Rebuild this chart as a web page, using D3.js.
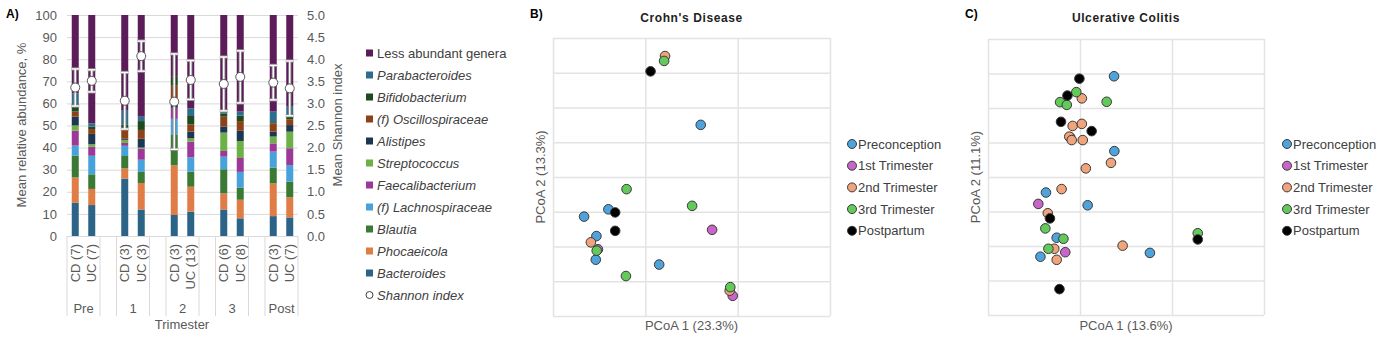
<!DOCTYPE html>
<html><head><meta charset="utf-8">
<script src="https://cdn.jsdelivr.net/npm/d3@7"></script>
<style>body{margin:0;background:#fff}svg{display:block;font-family:"Liberation Sans",Arial,sans-serif}</style>
</head><body><svg id="c" width="1390" height="358"></svg>
<script>
// ---------- Panel A data ----------
const groups = ["Pre", "1", "2", "3", "Post"];
const cdN = [7, 3, 3, 6, 3];
const ucN = [7, 3, 13, 8, 7];
// order of bars: PreCD, PreUC, 1CD, 1UC, 2CD, 2UC, 3CD, 3UC, PostCD, PostUC
const bacteroides     = [15, 14, 26, 12, 9.5, 11, 12, 8, 9, 8.4];
const phocaeicola     = [11.5, 7.3, 4.6, 12, 22.5, 11.3, 7.3, 8.4, 14.8, 9.1];
const blautia         = [9.8, 6.6, 5.6, 5, 14, 6.8, 10.9, 5.4, 7.1, 7.1];
const lachnospiraceae = [4.6, 8.4, 4.6, 5.5, 7, 6.5, 5.7, 7.2, 7.3, 7.5];
const faecalibacterium= [6.8, 4.1, 1.3, 5, 5, 7.1, 2.6, 6.3, 3.7, 7.6];
const streptococcus   = [2.3, 1.2, 1.4, 0.5, 0, 1.5, 8.3, 7.7, 3.1, 7.5];
const alistipes       = [4, 4.6, 0.5, 4, 3, 3, 2.7, 4.6, 2.2, 3];
const oscillospiraceae= [2.3, 2.2, 4, 4, 7, 3.3, 4.5, 4.4, 3.8, 2.6];
const bifidobacterium = [2.2, 1.1, 2.5, 4, 4, 3.8, 1.5, 2.5, 0.5, 1.2];
const parabacteroides = [6, 1.5, 6.5, 2, 0, 3.5, 0.8, 1.8, 4.8, 4.5];
const lessAbundant    = [35.5, 49, 43, 46, 28, 42.2, 43.7, 43.7, 43.7, 41.5];
const shannonMean = [3.36, 3.51, 3.06, 4.07, 3.04, 3.53, 3.44, 3.60, 3.47, 3.34];
const shannonSD   = [0.42, 0.25, 0.64, 0.34, 1.08, 0.44, 0.61, 0.59, 0.39, 0.62];
const leftTicks = [0,10,20,30,40,50,60,70,80,90,100];
const rightTicks = [0,0.5,1,1.5,2,2.5,3,3.5,4,4.5,5];

// ---------- Panel B / C data (PCoA coordinates) ----------
const cdPre  = [[0.180,0.150],[-0.120,-0.093],[-0.199,-0.114],[-0.159,-0.170],[-0.161,-0.238],[0.045,-0.252]];
const cdT1   = [[0.217,-0.152],[-0.154,-0.208],[0.284,-0.342]];
const cdT2   = [[0.064,0.348],[-0.177,-0.188],[0.274,-0.327]];
const cdT3   = [[0.061,0.334],[-0.061,-0.035],[0.152,-0.083],[-0.158,-0.212],[-0.063,-0.285],[0.276,-0.317]];
const cdPost = [[0.017,0.304],[-0.098,-0.102],[-0.098,-0.155]];
const ucPre  = [[0.111,0.292],[0.112,0.075],[-0.111,-0.045],[0.025,-0.082],[-0.076,-0.176],[-0.129,-0.231],[0.228,-0.220]];
const ucT1   = [[-0.032,0.115],[-0.136,-0.078],[-0.048,-0.218]];
const ucT2   = [[0.006,0.228],[-0.024,0.148],[0.006,0.154],[-0.035,0.117],[-0.027,0.107],[0.009,0.107],[0.101,0.041],[0.019,0.025],[-0.060,-0.035],[-0.105,-0.105],[0.139,-0.199],[-0.084,-0.208],[-0.076,-0.240]];
const ucT3   = [[-0.012,0.246],[-0.065,0.217],[-0.043,0.209],[0.087,0.218],[-0.113,-0.149],[0.384,-0.163],[-0.054,-0.179],[-0.103,-0.208]];
const ucPost = [[-0.002,0.285],[-0.041,0.236],[-0.062,0.160],[0.038,0.133],[-0.098,-0.120],[0.384,-0.181],[-0.067,-0.325]];
const timepoints = ["Preconception","1st Trimester","2nd Trimester","3rd Trimester","Postpartum"];
const pcoaXTicks = [-0.3, 0, 0.3, 0.6];
const pcoaYTicks = [-0.4,-0.3,-0.2,-0.1,0,0.1,0.2,0.3,0.4];

// ---------- styling ----------
const genera = [
  {name:"Bacteroides", vals:bacteroides, color:"#2c6488", it:true},
  {name:"Phocaeicola", vals:phocaeicola, color:"#e07d47", it:true},
  {name:"Blautia", vals:blautia, color:"#3b7a35", it:true},
  {name:"(f) Lachnospiraceae", vals:lachnospiraceae, color:"#47a1db", it:true},
  {name:"Faecalibacterium", vals:faecalibacterium, color:"#9c3898", it:true},
  {name:"Streptococcus", vals:streptococcus, color:"#6cb046", it:true},
  {name:"Alistipes", vals:alistipes, color:"#1c3754", it:true},
  {name:"(f) Oscillospiraceae", vals:oscillospiraceae, color:"#8d4119", it:true},
  {name:"Bifidobacterium", vals:bifidobacterium, color:"#1e4a1d", it:true},
  {name:"Parabacteroides", vals:parabacteroides, color:"#2f6d8e", it:true},
  {name:"Less abundant genera", vals:lessAbundant, color:"#5c1c59", it:false}
];
const tpColors = ["#4ea3dc","#c866c8","#efa47c","#63c95a","#000000"];
const gridC = "#d9d9d9", textC = "#595959";

const svg = d3.select("#c");
svg.append("rect").attr("width",1390).attr("height",358).attr("fill","#fff");

// ================= Panel A =================
const cats = [];
groups.forEach((g,i)=>{ cats.push(g+"|CD", g+"|UC"); if(i<groups.length-1) cats.push("gap"+i); });
const barKeys = [];
groups.forEach(g=>{ barKeys.push(g+"|CD", g+"|UC"); });
const x = d3.scaleBand(cats,[67,298]);
const yL = d3.scaleLinear([0,100],[236,15]);
const yR = d3.scaleLinear([0,5],[236,15]);
const A = svg.append("g");

const ga = A.append("g").attr("transform","translate(67,0)")
  .call(d3.axisLeft(yL).tickValues(leftTicks).tickSize(-231).tickPadding(10));
ga.select(".domain").remove();
ga.selectAll("line").attr("stroke",gridC);
ga.selectAll("text").attr("fill",textC).attr("font-size",13);
const gr = A.append("g").attr("transform","translate(298,0)")
  .call(d3.axisRight(yR).tickValues(rightTicks).tickFormat(d3.format(".1f")).tickSize(0).tickPadding(9));
gr.select(".domain").remove();
gr.selectAll("text").attr("fill",textC).attr("font-size",13);

// stacked bars
const table = barKeys.map((k,i)=>{ const o={key:k}; genera.forEach(g=>o[g.name]=g.vals[i]); return o; });
const series = d3.stack().keys(genera.map(g=>g.name))(table);
const bw = 7;
series.forEach((s,si)=>{
  A.append("g").selectAll("rect").data(s).join("rect")
    .attr("x",d=>x(d.data.key)+(x.bandwidth()-bw)/2)
    .attr("width",bw)
    .attr("y",d=>yL(d[1]))
    .attr("height",d=>Math.max(0,yL(d[0])-yL(d[1])))
    .attr("fill",genera[si].color);
});
// error bars + markers
const eb = A.append("g");
barKeys.forEach((k,i)=>{
  const cx = x(k)+x.bandwidth()/2;
  const lo = yR(shannonMean[i]-shannonSD[i]), hi = yR(shannonMean[i]+shannonSD[i]);
  [["#8c8c8c",3.2],["#ffffff",1.4]].forEach(([c,w])=>{
    eb.append("line").attr("x1",cx).attr("x2",cx).attr("y1",lo).attr("y2",hi).attr("stroke",c).attr("stroke-width",w);
    eb.append("line").attr("x1",cx-4).attr("x2",cx+4).attr("y1",lo).attr("y2",lo).attr("stroke",c).attr("stroke-width",w);
    eb.append("line").attr("x1",cx-4).attr("x2",cx+4).attr("y1",hi).attr("y2",hi).attr("stroke",c).attr("stroke-width",w);
  });
  eb.append("circle").attr("cx",cx).attr("cy",yR(shannonMean[i])).attr("r",4.5)
    .attr("fill","#fff").attr("stroke","#595959").attr("stroke-width",1);
});
// category axis
const ca = A.append("g");
groups.forEach((g,i)=>{
  const x0 = x(g+"|CD"), x1 = x(g+"|UC")+x.bandwidth();
  [x0,x1].forEach(xx=>ca.append("line").attr("x1",xx).attr("x2",xx).attr("y1",236).attr("y2",316).attr("stroke",gridC));
  [["CD",cdN[i],g+"|CD"],["UC",ucN[i],g+"|UC"]].forEach(([lab,n,k])=>{
    const cx = x(k)+x.bandwidth()/2;
    ca.append("text").attr("transform",`translate(${cx+4.5},244) rotate(-90)`)
      .attr("text-anchor","end").attr("font-size",13).attr("fill",textC).text(`${lab} (${n})`);
  });
  ca.append("text").attr("x",(x0+x1)/2).attr("y",313).attr("text-anchor","middle")
    .attr("font-size",13).attr("fill",textC).text(g);
});
A.append("text").attr("x",182).attr("y",329).attr("text-anchor","middle").attr("font-size",13).attr("fill",textC).text("Trimester");
A.append("text").attr("transform","translate(26,125) rotate(-90)").attr("text-anchor","middle").attr("font-size",13).attr("fill",textC).text("Mean relative abundance, %");
A.append("text").attr("transform","translate(342,125) rotate(-90)").attr("text-anchor","middle").attr("font-size",13).attr("fill",textC).text("Mean Shannon index");
A.append("text").attr("x",6).attr("y",18).attr("font-size",12).attr("font-weight","bold").text("A)");

// legend A
const legA = A.append("g");
const legItems = genera.slice().reverse();
legItems.forEach((g,i)=>{
  const yy = 53 + 22*i;
  legA.append("rect").attr("x",366).attr("y",yy-3.5).attr("width",7).attr("height",7).attr("fill",g.color);
  legA.append("text").attr("x",377).attr("y",yy).attr("dy","0.35em").attr("font-size",13).attr("fill","#404040")
    .attr("font-style",g.it?"italic":"normal").text(g.name);
});
{
  const yy = 53 + 22*legItems.length;
  legA.append("circle").attr("cx",369.5).attr("cy",yy).attr("r",3.5).attr("fill","#fff").attr("stroke","#404040");
  legA.append("text").attr("x",377).attr("y",yy).attr("dy","0.35em").attr("font-size",13).attr("fill","#404040")
    .attr("font-style","italic").text("Shannon index");
}

// ================= PCoA panels =================
function pcoa(cfg){
  const g = svg.append("g");
  const xs = d3.scaleLinear([-0.3,0.6],[cfg.l,cfg.r]);
  const ys = d3.scaleLinear([-0.4,0.4],[cfg.b,cfg.t]);
  const gx = g.append("g").attr("transform",`translate(0,${cfg.b})`)
    .call(d3.axisBottom(xs).tickValues(pcoaXTicks).tickSize(-(cfg.b-cfg.t)).tickFormat(""));
  const gy = g.append("g").attr("transform",`translate(${cfg.l},0)`)
    .call(d3.axisLeft(ys).tickValues(pcoaYTicks).tickSize(-(cfg.r-cfg.l)).tickFormat(""));
  [gx,gy].forEach(a=>{ a.select(".domain").remove(); a.selectAll("line").attr("stroke","#e3e3e3").attr("stroke-width",1.5); });
  cfg.sets.forEach((pts,si)=>{
    g.append("g").selectAll("circle").data(pts).join("circle")
      .attr("cx",d=>xs(d[0])).attr("cy",d=>ys(d[1])).attr("r",4.8)
      .attr("fill",tpColors[si]).attr("stroke","#3a3a3a").attr("stroke-width",1);
  });
  g.append("text").attr("x",(cfg.l+cfg.r)/2).attr("y",22).attr("text-anchor","middle")
    .attr("font-size",12).attr("font-weight","bold").attr("letter-spacing",0.6).attr("fill","#222").text(cfg.title);
  g.append("text").attr("x",(cfg.l+cfg.r)/2).attr("y",330).attr("text-anchor","middle")
    .attr("font-size",13).attr("fill",textC).text(cfg.xl);
  g.append("text").attr("transform",`translate(${cfg.l-8},${(cfg.t+cfg.b)/2}) rotate(-90)`).attr("text-anchor","middle")
    .attr("font-size",13).attr("fill",textC).text(cfg.yl);
  g.append("text").attr("x",cfg.lab[0]).attr("y",18).attr("font-size",12).attr("font-weight","bold").text(cfg.lab[1]);
  timepoints.forEach((t,i)=>{
    const yy = 144 + 21.7*i;
    g.append("circle").attr("cx",cfg.legX).attr("cy",yy).attr("r",4.5).attr("fill",tpColors[i]).attr("stroke","#3a3a3a");
    g.append("text").attr("x",cfg.legX+6).attr("y",yy).attr("dy","0.35em").attr("font-size",13).attr("fill","#404040").text(t);
  });
}
pcoa({l:553,r:830,t:38,b:316,sets:[cdPre,cdT1,cdT2,cdT3,cdPost],title:"Crohn's Disease",
      xl:"PCoA 1 (23.3%)",yl:"PCoA 2 (13.3%)",lab:[530,"B)"],legX:852});
pcoa({l:988,r:1264,t:39,b:315,sets:[ucPre,ucT1,ucT2,ucT3,ucPost],title:"Ulcerative Colitis",
      xl:"PCoA 1 (13.6%)",yl:"PCoA 2 (11.1%)",lab:[965,"C)"],legX:1287});
</script></body></html>
